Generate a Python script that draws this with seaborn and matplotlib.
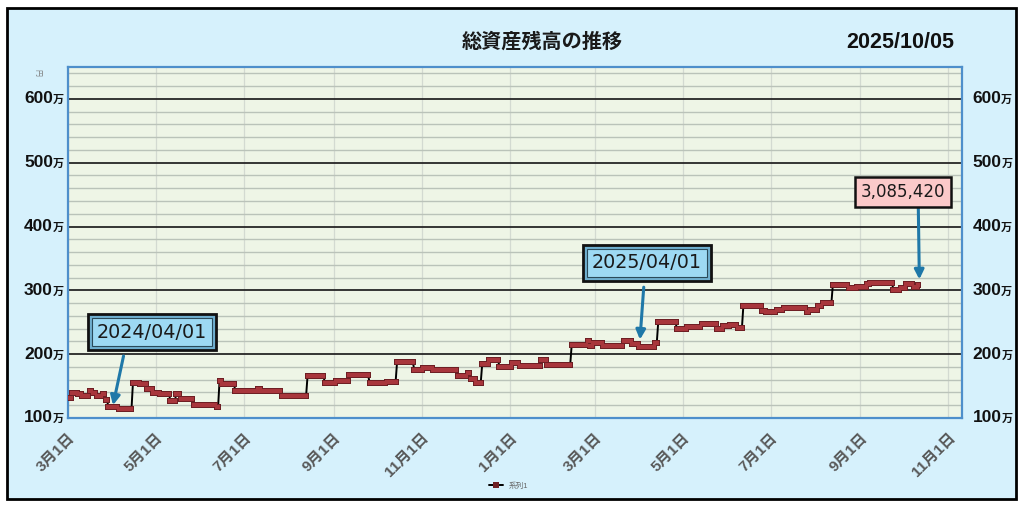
import numpy as np
import pandas as pd
import matplotlib
matplotlib.use("Agg")
import matplotlib.pyplot as plt
import matplotlib.transforms as mtransforms
from matplotlib.patches import Rectangle
import seaborn as sns

# ---------------- data (values in 万円) ----------------
change_dates = [
    "2024-03-01", "2024-03-04", "2024-03-08", "2024-03-11", "2024-03-16", "2024-03-18",
    "2024-03-21", "2024-03-25", "2024-03-27", "2024-03-29", "2024-04-05", "2024-04-15",
    "2024-04-20", "2024-04-25", "2024-04-29", "2024-05-04", "2024-05-11", "2024-05-15",
    "2024-05-18", "2024-05-27", "2024-06-12", "2024-06-14", "2024-06-16", "2024-06-25",
    "2024-07-11", "2024-07-13", "2024-07-27", "2024-08-14", "2024-08-26", "2024-09-03",
    "2024-09-12", "2024-09-26", "2024-10-08", "2024-10-15", "2024-10-27", "2024-11-02",
    "2024-11-09", "2024-11-26", "2024-12-03", "2024-12-05", "2024-12-09", "2024-12-13",
    "2024-12-18", "2024-12-25", "2025-01-03", "2025-01-08", "2025-01-23", "2025-01-27",
    "2025-02-13", "2025-02-24", "2025-02-26", "2025-02-28", "2025-03-07", "2025-03-21",
    "2025-03-27", "2025-04-01", "2025-04-12", "2025-04-14", "2025-04-27", "2025-05-04",
    "2025-05-14", "2025-05-25", "2025-05-29", "2025-06-03", "2025-06-08", "2025-06-12",
    "2025-06-25", "2025-06-28", "2025-07-05", "2025-07-10", "2025-07-26", "2025-07-28",
    "2025-08-03", "2025-08-06", "2025-08-13", "2025-08-24", "2025-08-30", "2025-09-06",
    "2025-09-08", "2025-09-24", "2025-09-29", "2025-10-03", "2025-10-08", "2025-10-11",
]
change_values = [
    132, 139, 137, 135, 142, 139,
    135, 138, 128, 118, 114, 155,
    153, 146, 139, 137, 127, 137,
    130, 120, 117, 158, 153, 142,
    146, 143, 135, 166, 155, 158,
    167, 155, 156, 187, 175, 179,
    175, 166, 170, 161, 155, 184,
    191, 180, 186, 182, 191, 183,
    214, 221, 213, 218, 213, 221,
    216, 212, 218, 250, 239, 243,
    247, 239, 244, 245, 241, 276,
    268, 266, 269, 272, 266, 270,
    276, 280, 309, 303, 306, 310,
    311, 301, 304, 310, 306, 308.5,
]

x_tick_dates = ["2024-03-01", "2024-05-01", "2024-07-01", "2024-09-01", "2024-11-01",
                "2025-01-01", "2025-03-01", "2025-05-01", "2025-07-01", "2025-09-01",
                "2025-11-01"]
x_tick_labels = ["3月1日", "5月1日", "7月1日", "9月1日", "11月1日", "1月1日",
                 "3月1日", "5月1日", "7月1日", "9月1日", "11月1日"]
y_ticks = [100, 200, 300, 400, 500, 600]
y_tick_labels = ["100", "200", "300", "400", "500", "600"]

title_text = "総資産残高の推移"
date_text = "2025/10/05"
series_name = "系列1"

callout_texts = ["2024/04/01", "2025/04/01", "3,085,420"]
callout_dates = ["2024-04-01", "2025-04-01", "2025-10-12"]

# ---------------- style ----------------
sns.set_theme(style="white")
plt.rcParams["font.family"] = ["Liberation Sans", "Noto Sans CJK JP", "DejaVu Sans"]

fig = plt.figure(figsize=(10.24, 5.07), dpi=100, facecolor="white")
fig.add_artist(Rectangle((7 / 1024, 1 - 499 / 507), 1009 / 1024, 491 / 507,
                         transform=fig.transFigure, facecolor="#D6F1FC",
                         edgecolor="black", linewidth=2, zorder=0))

ax = fig.add_axes([68 / 1024, 1 - 418 / 507, 894 / 1024, 351 / 507])
ax.set_facecolor("#EEF5E6")

s = pd.Series(change_values, index=pd.to_datetime(change_dates))
daily = s.resample("D").ffill()
df = pd.DataFrame({"date": daily.index, "value": daily.values})

# black connecting line with dark marker outline
sns.lineplot(data=df, x="date", y="value", ax=ax, color="black", linewidth=1.4,
             marker="s", markersize=4.4, markerfacecolor="#6E1F24",
             markeredgewidth=0, zorder=5)
line = ax.get_lines()[0]
# red marker fill on top
sns.lineplot(data=df, x="date", y="value", ax=ax, color="#A8363C", linewidth=0,
             marker="s", markersize=3.0, markerfacecolor="#A8363C",
             markeredgewidth=0, zorder=6)

ax.set_xlim(pd.Timestamp("2024-03-01"), pd.Timestamp("2025-11-10 12:00"))
ax.set_ylim(100, 650)

# grid
ax.set_yticks(y_ticks)
ax.set_yticks(np.arange(100, 660, 20), minor=True)
ax.yaxis.grid(True, which="minor", color="#BAC3B9", linewidth=1.0, zorder=1)
ax.yaxis.grid(True, which="major", color="#262626", linewidth=1.3, zorder=2)
ax.set_xticks(pd.to_datetime(x_tick_dates))
ax.xaxis.grid(True, which="major", color="#D3DAD1", linewidth=0.9, zorder=1)
ax.set_axisbelow(True)

ax.set_xticklabels(x_tick_labels, rotation=45, ha="right", rotation_mode="anchor",
                   fontsize=11, fontweight="bold", color="#595959")
ax.tick_params(axis="x", length=0, pad=9)
ax.set_yticklabels([])
ax.tick_params(axis="y", which="both", length=0)
ax.set_xlabel("")
ax.set_ylabel("")

for sp in ax.spines.values():
    sp.set_color("#4E8FCB")
    sp.set_linewidth(1.6)
    sp.set_visible(True)

# y labels on both sides (number + small 万)
trans = mtransforms.blended_transform_factory(ax.transAxes, ax.transData)
for v, lab in zip(y_ticks, y_tick_labels):
    left = ax.annotate(lab, xy=(0, v), xycoords=trans, xytext=(-10.8, 0),
                       textcoords="offset points", ha="right", va="center",
                       fontsize=12.5, fontweight="bold", color="#111111")
    ax.annotate("万", xy=(1, 0.08), xycoords=left, ha="left", va="bottom",
                fontsize=8, fontweight="bold", color="#111111")
    right = ax.annotate(lab, xy=(1, v), xycoords=trans, xytext=(7.5, 0),
                        textcoords="offset points", ha="left", va="center",
                        fontsize=12.5, fontweight="bold", color="#111111")
    ax.annotate("万", xy=(1, 0.08), xycoords=right, ha="left", va="bottom",
                fontsize=8, fontweight="bold", color="#111111")

# titles
fig.text(0.530, 1 - 42 / 507, title_text, ha="center", va="center",
         fontsize=14.5, fontweight="bold", color="#1a1a1a")
fig.text(0.879, 1 - 42 / 507, date_text, ha="center", va="center",
         fontsize=15.5, fontweight="bold", color="#111111")
fig.text(0.036, 1 - 72 / 507, "円", ha="center", va="center", rotation=-90,
         fontsize=5, color="#7a7a7a")

# legend
fig.legend(handles=[line], labels=[series_name], loc="center",
           bbox_to_anchor=(0.497, 0.041), frameon=False, fontsize=5.5,
           handlelength=1.8, labelcolor="#666666")

# callouts
box_pos = [(152 / 1024, 1 - 332 / 507), (647 / 1024, 1 - 263 / 507),
           (903 / 1024, 1 - 192 / 507)]
relx = [0.27, 0.48, 0.68]
faces = ["#9DD9F3", "#9DD9F3", "#FBC9C9"]
sizes = [13.8, 13.8, 12]
shrinks = [1, 5, 4]
for txt, d, pos, rx, fc, fs, sh in zip(callout_texts, callout_dates, box_pos,
                                         relx, faces, sizes, shrinks):
    dt = pd.Timestamp(d)
    yv = daily.asof(dt)
    if fc != "#FBC9C9":
        # bevel frame
        ax.annotate(txt, xy=(dt, yv), xycoords="data", xytext=pos,
                    textcoords="figure fraction", ha="center", va="center",
                    fontsize=fs, color=(0, 0, 0, 0), family="DejaVu Sans",
                    bbox=dict(boxstyle="square,pad=0.45", facecolor="#6FAFCF",
                              edgecolor="#111111", linewidth=2), zorder=8)
        ax.annotate(txt, xy=(dt, yv), xycoords="data", xytext=pos,
                    textcoords="figure fraction", ha="center", va="center",
                    fontsize=fs, color="#1a1a1a", family="DejaVu Sans",
                    bbox=dict(boxstyle="square,pad=0.24", facecolor=fc,
                              edgecolor="#2a4a5a", linewidth=0.8),
                    arrowprops=dict(arrowstyle="-|>", color="#1F78A8", lw=2.2,
                                    mutation_scale=14, relpos=(rx, 0),
                                    shrinkA=7, shrinkB=sh), zorder=9)
    else:
        ax.annotate(txt, xy=(dt, yv), xycoords="data", xytext=pos,
                    textcoords="figure fraction", ha="center", va="center",
                    fontsize=fs, color="#1a1a1a", family="DejaVu Sans",
                    bbox=dict(boxstyle="square,pad=0.35", facecolor=fc,
                              edgecolor="#111111", linewidth=1.8),
                    arrowprops=dict(arrowstyle="-|>", color="#1F78A8", lw=2.2,
                                    mutation_scale=14, relpos=(rx, 0),
                                    shrinkA=0, shrinkB=sh), zorder=9)

fig.savefig("out.png", dpi=100, facecolor="white")
